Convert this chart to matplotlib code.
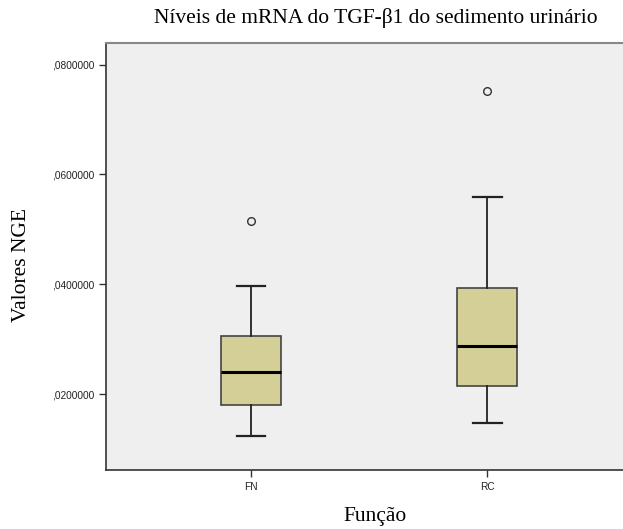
import matplotlib
matplotlib.use("Agg")
import matplotlib.pyplot as plt
from matplotlib.ticker import FuncFormatter

# box statistics (NGE values)
GROUPS = ["FN", "RC"]
WHISK_LO = [0.01247, 0.01478]
Q1 = [0.0180, 0.02145]
MEDIAN = [0.02405, 0.02884]
Q3 = [0.0306, 0.03927]
WHISK_HI = [0.0397, 0.05587]
OUTLIERS = [[0.0515], [0.0752]]

YTICKS = [0.02, 0.04, 0.06, 0.08]

fig = plt.figure(figsize=(6.23, 5.29), dpi=100)
ax = fig.add_axes([0.170, 0.1115, 0.832, 0.807])
ax.set_facecolor("#EFEFEF")

stats = [dict(label=g, whislo=lo, q1=a, med=m, q3=b, whishi=hi, fliers=fl)
         for g, lo, a, m, b, hi, fl in zip(GROUPS, WHISK_LO, Q1, MEDIAN, Q3, WHISK_HI, OUTLIERS)]
ax.bxp(stats, positions=[1, 2], widths=0.253, capwidths=0.122, patch_artist=True,
       boxprops=dict(facecolor="#D3CF96", edgecolor="#444444", linewidth=1.2),
       medianprops=dict(color="black", linewidth=2.2),
       whiskerprops=dict(color="#222222", linewidth=1.3),
       capprops=dict(color="#222222", linewidth=1.6),
       flierprops=dict(marker="o", markerfacecolor="none", markeredgecolor="#333333",
                       markersize=5.5, markeredgewidth=1.0))

ax.set_xlim(0.386, 2.58)
ax.set_ylim(0.00624, 0.0839)
ax.set_yticks(YTICKS)
ax.yaxis.set_major_formatter(FuncFormatter(lambda v, p: f"{v:.7f}".lstrip("0").replace(".", ",")))
ax.tick_params(axis="both", direction="out", length=5, width=1.0, color="#333333",
               labelsize=7.3, labelcolor="#222222")
for lab in ax.get_xticklabels() + ax.get_yticklabels():
    lab.set_family("Liberation Sans")

ax.spines["left"].set_color("#333333")
ax.spines["bottom"].set_color("#333333")
ax.spines["left"].set_linewidth(1.2)
ax.spines["bottom"].set_linewidth(1.2)
ax.spines["top"].set_color("#888888")
ax.spines["top"].set_linewidth(1.5)
ax.spines["right"].set_visible(False)

fig.text(376 / 623, 1 - 18 / 529, "Níveis de mRNA do TGF-β1 do sedimento urinário",
         family="Liberation Serif", fontsize=15.5, ha="center", va="center")
fig.text(375 / 623, 1 - 516 / 529, "Função", family="Liberation Serif", fontsize=15.5,
         ha="center", va="center")
fig.text(22 / 623, 1 - 265 / 529, "Valores NGE", family="Liberation Serif", fontsize=15.5,
         rotation=90, ha="center", va="center")

fig.savefig("out.png", dpi=100)
